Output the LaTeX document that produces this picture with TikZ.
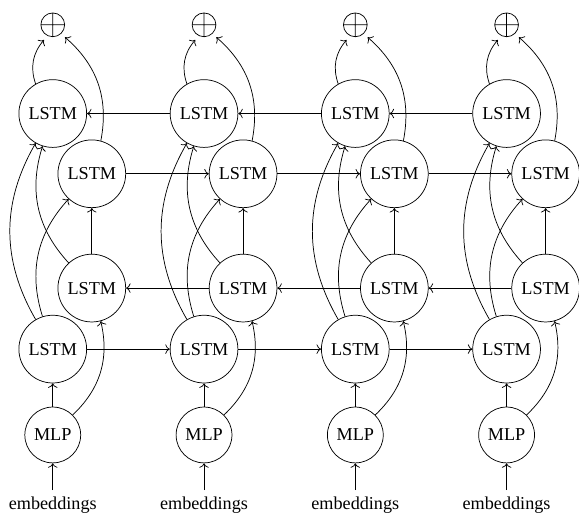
\documentclass[tikz,border=0pt]{standalone}
\usepackage{fontspec}
\setmainfont{Liberation Serif}
\usepackage{tikz}
\usetikzlibrary{positioning}
\usetikzlibrary{arrows.meta}
\tikzset{lstmbox/.style={circle, draw=black, minimum size=1.31cm, inner sep=0pt}}
\tikzset{mlpbox/.style={circle, draw=black, minimum size=1.08cm, inner sep=0pt}}
\tikzset{sumbox/.style={circle, minimum size=0.66cm, inner sep=0pt,
    path picture={\draw (path picture bounding box.center) circle (0.23cm)
      +(-0.23,0) -- +(0.23,0) +(0,-0.23) -- +(0,0.23);}}}

\begin{document}
\begin{tikzpicture}
    \useasboundingbox (0,0) rectangle (11.195,-9.92);
    % column 1
    \node [](E1) at (1.02,-9.76) {embeddings};
    \node [mlpbox](M1) at (1.02,-8.41) {MLP};
    \node [lstmbox](F11) at (1.02,-6.75) {LSTM};
    \node [lstmbox](B11) at (1.775,-5.57) {LSTM};
    \node [lstmbox](F21) at (1.775,-3.36) {LSTM};
    \node [lstmbox](B21) at (1.02,-2.195) {LSTM};
    \node [sumbox](S1) at (1.02,-0.48) {};
    % column 2
    \node [](E2) at (3.945,-9.76) {embeddings};
    \node [mlpbox](M2) at (3.945,-8.41) {MLP};
    \node [lstmbox](F12) at (3.945,-6.75) {LSTM};
    \node [lstmbox](B12) at (4.70,-5.57) {LSTM};
    \node [lstmbox](F22) at (4.70,-3.36) {LSTM};
    \node [lstmbox](B22) at (3.945,-2.195) {LSTM};
    \node [sumbox](S2) at (3.945,-0.48) {};
    % column 3
    \node [](E3) at (6.87,-9.76) {embeddings};
    \node [mlpbox](M3) at (6.87,-8.41) {MLP};
    \node [lstmbox](F13) at (6.87,-6.75) {LSTM};
    \node [lstmbox](B13) at (7.625,-5.57) {LSTM};
    \node [lstmbox](F23) at (7.625,-3.36) {LSTM};
    \node [lstmbox](B23) at (6.87,-2.195) {LSTM};
    \node [sumbox](S3) at (6.87,-0.48) {};
    % column 4
    \node [](E4) at (9.795,-9.76) {embeddings};
    \node [mlpbox](M4) at (9.795,-8.41) {MLP};
    \node [lstmbox](F14) at (9.795,-6.75) {LSTM};
    \node [lstmbox](B14) at (10.55,-5.57) {LSTM};
    \node [lstmbox](F24) at (10.55,-3.36) {LSTM};
    \node [lstmbox](B24) at (9.795,-2.195) {LSTM};
    \node [sumbox](S4) at (9.795,-0.48) {};

    % vertical connections
    \draw[->] (E1) -- (M1);
    \draw[->] (M1) -- (F11);
    \draw[->] (M1) to[bend right=30] (B11);
    \draw[->] (F11) to[bend left=30] (F21);
    \draw[->] (F11) to[bend left=30] (B21);
    \draw[->] (B11) -- (F21);
    \draw[->] (B11) to[bend left=30] (B21);
    \draw[->] (B21) to[bend left=30] (S1);
    \draw[->] (F21) to[bend right=30] (S1);

    \draw[->] (E2) -- (M2);
    \draw[->] (M2) -- (F12);
    \draw[->] (M2) to[bend right=30] (B12);
    \draw[->] (F12) to[bend left=30] (F22);
    \draw[->] (F12) to[bend left=30] (B22);
    \draw[->] (B12) -- (F22);
    \draw[->] (B12) to[bend left=30] (B22);
    \draw[->] (B22) to[bend left=30] (S2);
    \draw[->] (F22) to[bend right=30] (S2);

    \draw[->] (E3) -- (M3);
    \draw[->] (M3) -- (F13);
    \draw[->] (M3) to[bend right=30] (B13);
    \draw[->] (F13) to[bend left=30] (F23);
    \draw[->] (F13) to[bend left=30] (B23);
    \draw[->] (B13) -- (F23);
    \draw[->] (B13) to[bend left=30] (B23);
    \draw[->] (B23) to[bend left=30] (S3);
    \draw[->] (F23) to[bend right=30] (S3);

    \draw[->] (E4) -- (M4);
    \draw[->] (M4) -- (F14);
    \draw[->] (M4) to[bend right=30] (B14);
    \draw[->] (F14) to[bend left=30] (F24);
    \draw[->] (F14) to[bend left=30] (B24);
    \draw[->] (B14) -- (F24);
    \draw[->] (B14) to[bend left=30] (B24);
    \draw[->] (B24) to[bend left=30] (S4);
    \draw[->] (F24) to[bend right=30] (S4);

    % horizontal connections
    \draw[->] (F11) -- (F12);
    \draw[->] (F12) -- (F13);
    \draw[->] (F13) -- (F14);
    \draw[->] (B12) -- (B11);
    \draw[->] (B13) -- (B12);
    \draw[->] (B14) -- (B13);
    \draw[->] (F21) -- (F22);
    \draw[->] (F22) -- (F23);
    \draw[->] (F23) -- (F24);
    \draw[->] (B22) -- (B21);
    \draw[->] (B23) -- (B22);
    \draw[->] (B24) -- (B23);
\end{tikzpicture}
\end{document}
